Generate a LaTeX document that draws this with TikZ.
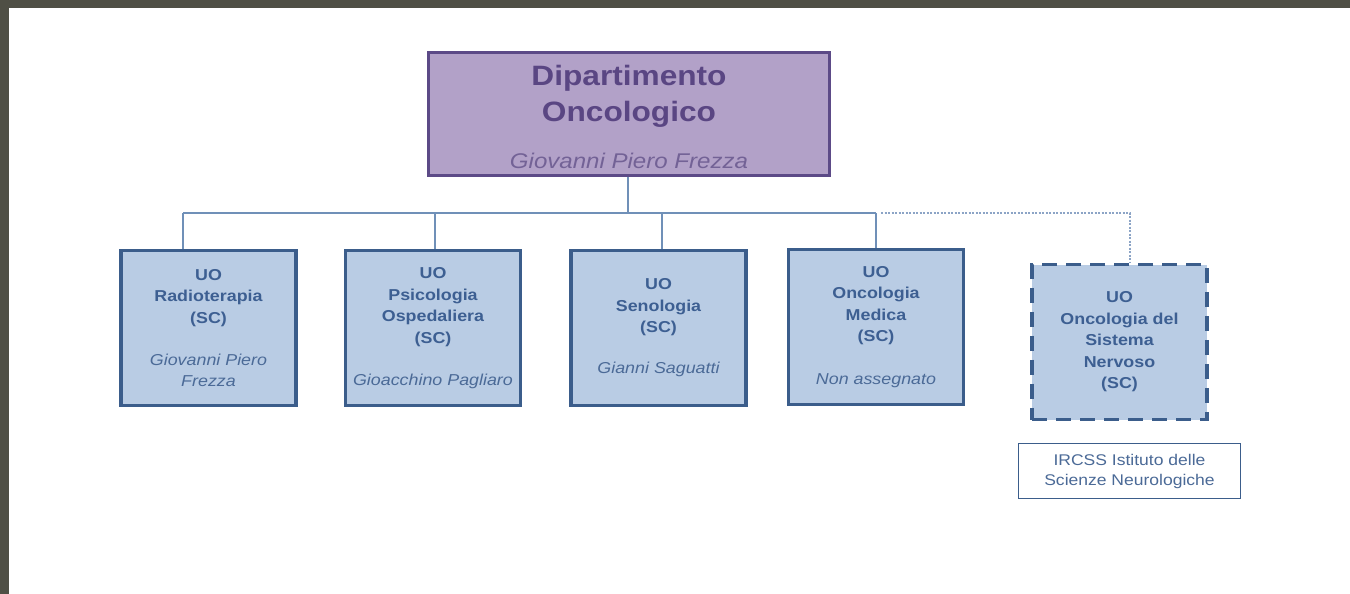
\documentclass[tikz,border=0pt]{standalone}
\usepackage{fontspec}
\setmainfont{Liberation Sans}[FakeStretch=1.13]
\begin{document}
\definecolor{frame}{HTML}{4F4F45}
\definecolor{rootfill}{HTML}{B2A1C8}
\definecolor{rootline}{HTML}{5C4A87}
\definecolor{roottext}{HTML}{5A4683}
\definecolor{unitfill}{HTML}{B9CCE4}
\definecolor{unitline}{HTML}{3B5D8B}
\definecolor{unittext}{HTML}{3D5F92}
\definecolor{nametext}{HTML}{4B6A97}
\definecolor{linkcol}{HTML}{7090B8}
\definecolor{dotcol}{HTML}{8CA4C6}
\newcommand\uname[1]{{\mdseries\itshape\color{nametext}#1}}
\begin{tikzpicture}[x=1pt,y=-1pt,
  rootbox/.style={draw=rootline,fill=rootfill,line width=3pt,minimum width=401pt,minimum height=123pt,
    text=roottext,align=center,inner sep=0pt,font=\fontsize{28}{36}\selectfont\bfseries},
  unitbox/.style={draw=unitline,fill=unitfill,line width=3.5pt,minimum width=175pt,minimum height=155pt,
    text=unittext,align=center,inner sep=0pt,font=\fontsize{15.8}{21.5}\selectfont\bfseries},
  extbox/.style={unitbox,dash pattern=on 15pt off 9pt},
  notebox/.style={draw=unitline,fill=white,line width=1.3pt,minimum width=222pt,minimum height=55pt,
    text=nametext,align=center,inner sep=0pt,font=\fontsize{15.5}{20}\selectfont},
  link/.style={draw=linkcol,line width=1.5pt},
  dotlink/.style={draw=dotcol,line width=1.5pt,dash pattern=on 2pt off 1.5pt}]
% page frame
\fill[frame] (0,0) rectangle (1350,594);
\fill[white] (9,8) rectangle (1350,594);
\useasboundingbox (0,0) rectangle (1350,594);

% department head (strut on the first line lowers the text block a little)
\node[rootbox] (root) at (629,114) {\rule{0pt}{27pt}Dipartimento\\Oncologico\\[11pt]
  {\fontsize{21.3}{26}\selectfont\mdseries\itshape\color{roottext!85!white}Giovanni Piero Frezza}};

% units
\node[unitbox] (radio) at (208.5,328) {UO\\Radioterapia\\(SC)\\[20.5pt]\uname{Giovanni Piero}\\\uname{Frezza}};
\node[unitbox] (psico) at (433,328) {UO\\Psicologia\\Ospedaliera\\(SC)\\[20.5pt]\uname{Gioacchino Pagliaro}};
\node[unitbox] (seno) at (658.5,328) {UO\\Senologia\\(SC)\\[19.5pt]\uname{Gianni Saguatti}};
\node[unitbox] (onco) at (876,327) {UO\\Oncologia\\Medica\\(SC)\\[21pt]\uname{Non assegnato}};
\node[extbox] (snc) at (1119.5,342) {UO\\Oncologia del\\Sistema\\Nervoso\\(SC)};
\node[notebox] (irccs) at (1129.5,471) {IRCSS Istituto delle\\Scienze Neurologiche};

% connectors
\coordinate (bus) at (628,213);
\coordinate (busL) at (183,213);
\coordinate (busP) at (435,213);
\coordinate (busS) at (662,213);
\coordinate (busO) at (876,213);
\coordinate (dotA) at (881,213);
\coordinate (dotB) at (1130,213);
\draw[link] (root.south -| bus) -- (bus);
\draw[link] (busL) -- (busO);
\draw[link] (busL) -- (busL |- radio.north);
\draw[link] (busP) -- (busP |- psico.north);
\draw[link] (busS) -- (busS |- seno.north);
\draw[link] (busO) -- (busO |- onco.north);
\draw[dotlink] (dotA) -- (dotB) -- (dotB |- snc.north);
\end{tikzpicture}
\end{document}
